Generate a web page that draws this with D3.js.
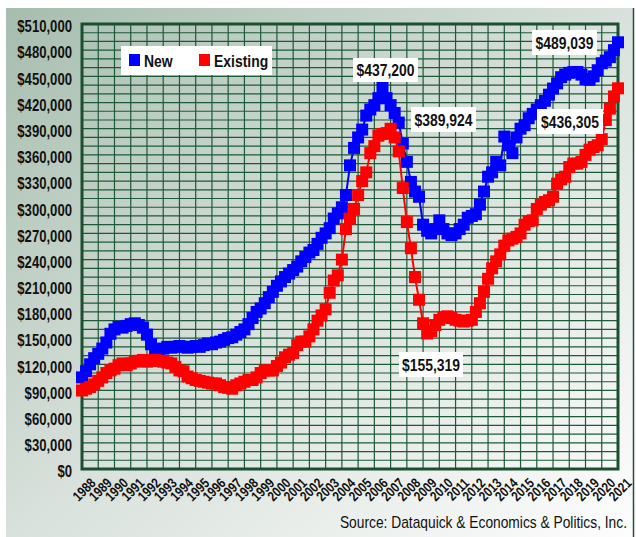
<!DOCTYPE html>
<html><head><meta charset="utf-8">
<script src="https://cdn.jsdelivr.net/npm/d3@7"></script>
<style>
html,body{margin:0;padding:0;background:#fff;}
svg{display:block;}
text{font-family:"Liberation Sans",Arial,sans-serif;}
</style></head>
<body>
<svg id="chart" width="636" height="537"></svg>
<script>
// ---- data (quarterly, 1988Q1 .. 2021Q1), values in $ thousands ----
const startYear = 1988;
const newHomes = [105,112,120,127,132,138,145,155,160,163,162,164,166,167,165,162,154,143,137,136,
138,140,139,140,141,140,139,140,141,140,142,144,143,145,146,148,150,151,154,157,
160,166,173,180,184,190,197,203,210,215,220,224,228,232,238,243,248,251,258,265,
270,276,287,293,300,314,348,368,380,389,405,412,417,425,437.2,425,417,408,397,373,
352,329,318,312,280,273,270,275,285,275,270,268,270,275,280,288,290,292,303,318,
335,340,352,348,381,371,362,380,390,394,402,407,412,417,422,429,436,442,449,452,
454,455,455,452,447,446,450,457,465,468,472,480,489.039];
const existingHomes = [90,92,94,97,101,105,110,113,115,119,121,119,121,123,124,125,123,124,125,124,
123,122,121,117,113,112,106,104,102,101,100,99,98,98,96,94,93,92,96,98,
100,102,102,105,110,113,113,113,118,122,128,131,133,142,146,146,152,160,170,176,
183,202,216,222,240,275,287,298,314,330,340,362,370,382,384,385,389.924,380,364,322,
283,253,220,194,167,155.319,158,165,171,174,175,173,171,170,169,170,171,180,190,203,
218,230,238,246,256,262,264,266,270,280,284,285,298,303,306,308,312,327,332,335,
346,350,350,352,360,366,369,371,378,400,413,427,436.305];
const seriesNames = ["New","Existing"];
const seriesColors = ["#0000ff","#ff0000"];
const yTicks = d3.range(0, 510001, 30000);
const xYears = d3.range(1988, 2022);
const annotations = [
  {label:"$437,200"},{label:"$389,924"},{label:"$155,319"},{label:"$489,039"},{label:"$436,305"}
];
const sourceText = "Source:  Dataquick & Economics & Politics, Inc.";

// ---- layout ----
const NARROW = 0.82;
const svg = d3.select("#chart");
const L = 82, R = 618, T = 24, B = 469;
const x = d3.scaleLinear().domain([1988, 2021]).range([L, R]);
const y = d3.scaleLinear().domain([0, 510000]).range([B, T]);

function narrowText(sel, tx, ty, size, weight, anchor, txt) {
  return sel.append("text")
    .attr("transform", `translate(${tx},${ty}) scale(${NARROW},1)`)
    .attr("text-anchor", anchor).attr("font-size", size).attr("font-weight", weight)
    .attr("fill", "#111").text(txt);
}

const defs = svg.append("defs");
const g1 = defs.append("linearGradient").attr("id","bg").attr("x1","0").attr("y1","0").attr("x2","1").attr("y2","1");
g1.append("stop").attr("offset","0").attr("stop-color","#a6bdae");
g1.append("stop").attr("offset","0.5").attr("stop-color","#d8e1db");
g1.append("stop").attr("offset","1").attr("stop-color","#fdfdfd");

svg.append("rect").attr("x",6).attr("y",8).attr("width",627).attr("height",529).attr("fill","url(#bg)");
svg.append("line").attr("x1",633.5).attr("x2",633.5).attr("y1",8).attr("y2",537).attr("stroke","#2c4a38").attr("stroke-width",1.5);

// grid
const grid = svg.append("g");
grid.selectAll("line.h").data(d3.range(0, 510001, 10000)).join("line")
  .attr("x1", L).attr("x2", R).attr("y1", d => y(d)).attr("y2", d => y(d))
  .attr("stroke", "#1d5a37").attr("stroke-width", 1.2);
grid.selectAll("line.v").data(xYears).join("line")
  .attr("x1", d => x(d)).attr("x2", d => x(d)).attr("y1", T).attr("y2", B)
  .attr("stroke", "#1d5a37").attr("stroke-width", 1.2);
svg.append("rect").attr("x", L).attr("y", T).attr("width", R - L).attr("height", B - T)
  .attr("fill", "none").attr("stroke", "#1a5030").attr("stroke-width", 3);

// axes
const yAxis = svg.append("g").attr("transform", `translate(${L - 10},0)`)
  .call(d3.axisLeft(y).tickValues(yTicks).tickSize(0).tickPadding(0).tickFormat(d3.format("$,")));
yAxis.select(".domain").remove();
yAxis.selectAll("text").attr("font-size", 16).attr("font-weight", "bold").attr("fill", "#111")
  .attr("x", 0).attr("dy", "0.36em").attr("transform", `translate(0,2) scale(${NARROW},1)`)
  .style("font-family", '"Liberation Sans",Arial,sans-serif');

const xAxis = svg.append("g").attr("transform", `translate(0,${B})`)
  .call(d3.axisBottom(x).tickValues(xYears).tickSize(0).tickFormat(d3.format("d")));
xAxis.select(".domain").remove();
xAxis.selectAll("text").attr("font-size", 14).attr("font-weight", "bold").attr("fill", "#111")
  .attr("text-anchor", "end").attr("dy", 0).attr("y", 0)
  .attr("transform", `translate(14,15) rotate(-45) scale(${NARROW},1)`)
  .style("font-family", '"Liberation Sans",Arial,sans-serif');

// series
const series = [newHomes, existingHomes];
const line = d3.line().x((d, i) => x(startYear + i / 4)).y(d => y(d * 1000));
series.forEach((s, k) => {
  const g = svg.append("g");
  g.append("path").datum(s).attr("d", line).attr("fill", "none")
    .attr("stroke", seriesColors[k]).attr("stroke-width", 2);
  const m = 12;
  g.selectAll("rect").data(s).join("rect")
    .attr("x", (d, i) => x(startYear + i / 4) - m / 2)
    .attr("y", d => y(d * 1000) - m / 2)
    .attr("width", m).attr("height", m).attr("fill", seriesColors[k]);
});

// legend
const lg = svg.append("g");
lg.append("rect").attr("x", 121).attr("y", 46).attr("width", 151).attr("height", 29).attr("fill", "#fff");
[[129, 0], [199, 1]].forEach(([lx, k]) => {
  lg.append("rect").attr("x", lx).attr("y", 54).attr("width", 11).attr("height", 12).attr("fill", seriesColors[k]);
  narrowText(lg, lx + 15, 67, 17, "bold", "start", seriesNames[k]);
});

// annotations (boxes placed near the values they label)
const annPos = [
  {bx:353, by:58, bw:65, bh:24},
  {bx:411, by:107, bw:65, bh:25},
  {bx:399, by:352, bw:64, bh:25},
  {bx:532, by:30, bw:65, bh:25},
  {bx:537, by:109, bw:66, bh:25}
];
annotations.forEach((a, i) => {
  const p = annPos[i];
  svg.append("rect").attr("x", p.bx).attr("y", p.by).attr("width", p.bw).attr("height", p.bh).attr("fill", "#fff");
  narrowText(svg, p.bx + p.bw / 2, p.by + p.bh / 2 + 6, 17, "bold", "middle", a.label);
});

narrowText(svg, 627, 528, 16.8, "normal", "end", sourceText);
</script>
</body></html>
